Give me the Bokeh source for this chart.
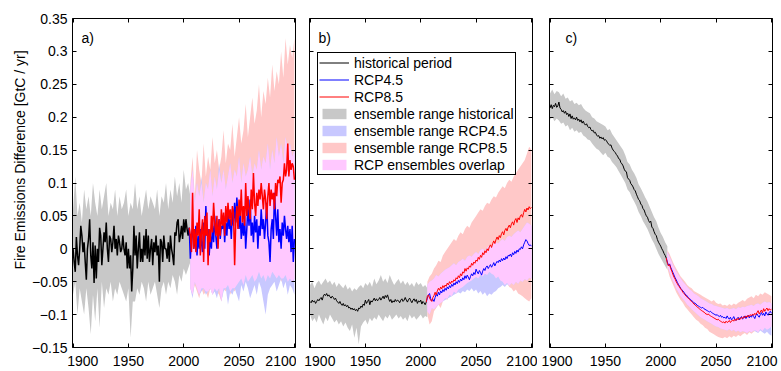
import numpy as np
from bokeh.plotting import figure
from bokeh.models import FixedTicker, LinearAxis, Legend, LegendItem, Range1d, Title, Label
from bokeh.layouts import row
from bokeh.embed import file_html
from bokeh.resources import INLINE

FONT = "Liberation Sans"
XLIM = (1899.5, 2101.0)
YLIM = (-0.15, 0.35)
XTICKS = [1900, 1950, 2000, 2050, 2100]
XTICK_LABELS = ["1900", "1950", "2000", "2050", "2100"]
YTICKS = [-0.15, -0.1, -0.05, 0.0, 0.05, 0.1, 0.15, 0.2, 0.25, 0.3, 0.35]
YTICK_LABELS = ["\u22120.15", "\u22120.1", "\u22120.05", "0", "0.05", "0.1", "0.15", "0.2", "0.25", "0.3", "0.35"]
Y_TITLE = "Fire Emissions Difference [GtC / yr]"
PANEL_NAMES = ["a)", "b)", "c)"]
LEGEND_LABELS = ["historical period", "RCP4.5", "RCP8.5", "ensemble range historical",
                 "ensemble range RCP4.5", "ensemble range RCP8.5", "RCP ensembles overlap"]

HIST_YEARS = list(range(1900, 2006))
RCP_YEARS = list(range(2005, 2101))
HIST_BAND_YEARS = list(range(1900, 2007, 2))
RCP_BAND_YEARS = list(range(2006, 2101, 2))

# ---------------- panel a ----------------
A_HIST = [0.000, -0.020, -0.035, 0.018, -0.010, -0.025, 0.000, 0.035, 0.020, -0.005,
          0.010, -0.020, -0.047, 0.000, 0.015, 0.045, -0.010, -0.030, 0.010, -0.052,
          0.005, -0.045, 0.000, -0.020, 0.032, 0.020, -0.025, 0.000, 0.025, 0.010,
          0.040, 0.000, -0.020, 0.020, 0.015, -0.005, 0.010, 0.035, 0.000, 0.015,
          -0.010, 0.020, 0.010, -0.005, 0.000, 0.020, 0.000, -0.010, 0.010, -0.030,
          0.000, -0.030, -0.010, -0.065, -0.030, 0.035, -0.010, 0.020, -0.030, 0.000,
          0.025, -0.020, 0.000, -0.020, 0.020, -0.010, 0.030, -0.015, 0.020, -0.020,
          0.000, 0.015, -0.025, 0.010, -0.005, 0.020, -0.010, 0.005, -0.050, 0.015,
          0.010, -0.020, 0.020, 0.000, 0.000, -0.015, 0.010, -0.020, 0.020, 0.000,
          -0.010, -0.025, 0.025, 0.020, 0.040, 0.045, 0.010, 0.020, 0.035, 0.015,
          0.045, 0.025, 0.045, 0.030, 0.020, 0.032]
A_RCP45 = [0.032, -0.015, 0.020, 0.030, 0.000, 0.010, 0.035, -0.010, 0.020, 0.000,
           0.030, 0.010, -0.005, 0.040, 0.000, 0.065, 0.020, 0.030, -0.010, 0.020,
           0.000, 0.035, 0.010, 0.050, 0.020, 0.000, 0.030, 0.045, 0.015, 0.035,
           0.030, 0.050, 0.010, 0.040, 0.020, 0.055, 0.030, 0.045, 0.015, 0.060,
           0.035, 0.070, 0.040, 0.078, 0.050, 0.030, 0.055, 0.015, 0.040, 0.020,
           0.050, 0.000, 0.030, 0.065, 0.035, 0.075, 0.020, 0.040, 0.010, 0.050,
           0.025, 0.045, 0.000, 0.035, 0.020, 0.060, 0.030, 0.045, 0.015, 0.040,
           0.070, 0.020, 0.010, -0.020, 0.030, 0.045, 0.015, 0.085, 0.050, 0.020,
           0.060, 0.010, 0.030, 0.000, 0.040, 0.020, 0.050, 0.030, 0.015, 0.035,
           0.010, 0.030, -0.005, 0.035, -0.020, 0.015]
A_RCP85 = [0.032, 0.020, -0.005, 0.085, 0.000, 0.030, -0.005, 0.040, 0.020, 0.060,
           -0.010, 0.025, 0.045, -0.020, 0.050, 0.020, 0.055, -0.025, 0.030, 0.010,
           0.050, 0.025, 0.070, 0.040, 0.020, 0.050, 0.000, 0.045, 0.020, 0.060,
           0.035, 0.055, 0.020, 0.065, 0.040, 0.070, 0.045, 0.060, 0.035, 0.065,
           0.055, -0.025, 0.040, 0.065, 0.030, 0.075, 0.050, 0.090, 0.040, 0.065,
           0.035, 0.100, 0.050, 0.080, 0.060, 0.045, 0.090, 0.060, 0.115, 0.070,
           0.050, 0.085, 0.065, 0.090, 0.075, 0.100, 0.080, 0.060, 0.090, 0.075,
           0.045, 0.080, 0.100, 0.065, 0.090, 0.075, 0.085, 0.060, 0.100, 0.080,
           0.105, 0.100, 0.110, 0.070, 0.100, 0.105, 0.130, 0.110, 0.120, 0.160,
           0.110, 0.135, 0.120, 0.130, 0.125, 0.105]
A_HIST_HI = [0.060, 0.110, 0.050, 0.070, 0.040, 0.090, 0.060, 0.080, 0.050, 0.100,
             0.070, 0.050, 0.090, 0.060, 0.080, 0.100, 0.050, 0.070, 0.060, 0.090,
             0.050, 0.080, 0.060, 0.070, 0.090, 0.050, 0.070, 0.060, 0.100, 0.060,
             0.080, 0.050, 0.070, 0.090, 0.060, 0.080, 0.070, 0.060, 0.090, 0.050,
             0.080, 0.070, 0.100, 0.060, 0.090, 0.070, 0.110, 0.080, 0.100, 0.070,
             0.120, 0.090, 0.100, 0.080]
A_HIST_LO = [-0.070, -0.050, -0.100, -0.060, -0.080, -0.100, -0.060, -0.090, -0.130, -0.070,
             -0.110, -0.060, -0.120, -0.050, -0.090, -0.060, -0.070, -0.050, -0.080, -0.060,
             -0.070, -0.050, -0.060, -0.070, -0.080, -0.060, -0.135, -0.080, -0.080, -0.060,
             -0.070, -0.050, -0.060, -0.080, -0.050, -0.070, -0.060, -0.050, -0.070, -0.090,
             -0.060, -0.050, -0.070, -0.050, -0.060, -0.040, -0.050, -0.070, -0.040, -0.050,
             -0.030, -0.040, -0.030, -0.020]
A_RCP85_HI = [0.100, 0.140, 0.080, 0.150, 0.120, 0.100, 0.160, 0.110, 0.140, 0.120,
              0.170, 0.130, 0.150, 0.120, 0.140, 0.180, 0.130, 0.160, 0.150, 0.190,
              0.140, 0.170, 0.200, 0.160, 0.180, 0.220, 0.170, 0.200, 0.230, 0.190,
              0.210, 0.250, 0.200, 0.240, 0.220, 0.260, 0.230, 0.280, 0.240, 0.270,
              0.250, 0.300, 0.260, 0.320, 0.280, 0.310, 0.290, 0.320]
A_RCP85_LO = [-0.060, -0.070, -0.055, -0.065, -0.075, -0.060, -0.070, -0.065, -0.075, -0.060,
              -0.070, -0.060, -0.065, -0.070, -0.080, -0.060, -0.065, -0.055, -0.070, -0.060,
              -0.065, -0.055, -0.050, -0.045, -0.055, -0.040, -0.050, -0.045, -0.040, -0.050,
              -0.045, -0.035, -0.045, -0.040, -0.050, -0.040, -0.045, -0.035, -0.040, -0.045,
              -0.040, -0.050, -0.045, -0.040, -0.050, -0.045, -0.050, -0.045]
A_RCP45_HI = [0.090, 0.120, 0.070, 0.100, 0.080, 0.110, 0.070, 0.100, 0.090, 0.120,
              0.080, 0.110, 0.090, 0.130, 0.100, 0.120, 0.090, 0.110, 0.130, 0.100,
              0.120, 0.110, 0.140, 0.100, 0.130, 0.110, 0.120, 0.140, 0.110, 0.130,
              0.120, 0.150, 0.120, 0.140, 0.130, 0.160, 0.120, 0.150, 0.130, 0.170,
              0.140, 0.160, 0.130, 0.170, 0.150, 0.160, 0.140, 0.150]
A_RCP45_LO = [-0.060, -0.075, -0.050, -0.060, -0.070, -0.065, -0.060, -0.070, -0.065, -0.060,
              -0.070, -0.065, -0.075, -0.060, -0.080, -0.065, -0.060, -0.085, -0.065, -0.070,
              -0.060, -0.070, -0.080, -0.055, -0.065, -0.050, -0.060, -0.075, -0.065, -0.055,
              -0.070, -0.050, -0.060, -0.080, -0.100, -0.070, -0.060, -0.055, -0.050, -0.065,
              -0.055, -0.045, -0.060, -0.050, -0.070, -0.055, -0.060, -0.070]

# ---------------- panel b ----------------
B_HIST = [-0.080, -0.082, -0.078, -0.081, -0.079, -0.083, -0.080, -0.077, -0.079, -0.076,
          -0.074, -0.078, -0.072, -0.069, -0.071, -0.068, -0.072, -0.070, -0.073, -0.075,
          -0.072, -0.074, -0.077, -0.075, -0.079, -0.081, -0.083, -0.080, -0.084, -0.086,
          -0.083, -0.087, -0.085, -0.088, -0.086, -0.090, -0.089, -0.092, -0.090, -0.093,
          -0.091, -0.094, -0.092, -0.095, -0.090, -0.091, -0.087, -0.089, -0.084, -0.086,
          -0.078, -0.083, -0.080, -0.077, -0.085, -0.079, -0.081, -0.078, -0.075, -0.079,
          -0.076, -0.079, -0.077, -0.074, -0.078, -0.075, -0.072, -0.076, -0.071, -0.074,
          -0.070, -0.076, -0.080, -0.077, -0.082, -0.079, -0.081, -0.077, -0.080, -0.078,
          -0.079, -0.082, -0.078, -0.076, -0.080, -0.078, -0.074, -0.078, -0.081, -0.077,
          -0.075, -0.079, -0.082, -0.078, -0.076, -0.080, -0.077, -0.083, -0.079, -0.081,
          -0.078, -0.084, -0.080, -0.082, -0.085, -0.081]
B_RCP45 = [-0.081, -0.075, -0.070, -0.068, -0.076, -0.079, -0.077, -0.080, -0.074, -0.069,
           -0.072, -0.066, -0.070, -0.064, -0.067, -0.062, -0.065, -0.060, -0.063, -0.058,
           -0.061, -0.056, -0.059, -0.054, -0.057, -0.052, -0.055, -0.050, -0.053, -0.048,
           -0.051, -0.046, -0.049, -0.044, -0.047, -0.041, -0.045, -0.040, -0.043, -0.047,
           -0.042, -0.038, -0.041, -0.036, -0.039, -0.031, -0.035, -0.038, -0.033, -0.036,
           -0.040, -0.034, -0.030, -0.033, -0.028, -0.026, -0.030, -0.027, -0.024, -0.028,
           -0.025, -0.021, -0.026, -0.022, -0.019, -0.021, -0.017, -0.020, -0.015, -0.018,
           -0.014, -0.017, -0.012, -0.015, -0.010, -0.011, -0.008, -0.012, -0.006, -0.009,
           -0.004, -0.007, -0.002, -0.005, 0.000, -0.001, 0.003, 0.000, 0.006, 0.010,
           0.014, 0.012, 0.008, 0.005, 0.006, 0.004]
B_RCP85 = [-0.081, -0.072, -0.070, -0.075, -0.078, -0.080, -0.074, -0.071, -0.066, -0.070,
           -0.064, -0.060, -0.063, -0.058, -0.061, -0.056, -0.059, -0.055, -0.057, -0.052,
           -0.055, -0.050, -0.053, -0.049, -0.051, -0.047, -0.049, -0.044, -0.046, -0.041,
           -0.044, -0.038, -0.041, -0.035, -0.037, -0.030, -0.034, -0.029, -0.031, -0.026,
           -0.028, -0.022, -0.025, -0.020, -0.022, -0.017, -0.019, -0.013, -0.016, -0.010,
           -0.013, -0.006, -0.009, -0.003, -0.006, 0.000, -0.003, 0.003, 0.006, 0.002,
           0.008, 0.012, 0.008, 0.014, 0.018, 0.014, 0.020, 0.017, 0.023, 0.026,
           0.021, 0.028, 0.031, 0.027, 0.033, 0.036, 0.032, 0.038, 0.041, 0.036,
           0.043, 0.046, 0.040, 0.047, 0.044, 0.050, 0.052, 0.048, 0.055, 0.060,
           0.056, 0.062, 0.059, 0.064, 0.061, 0.063]
B_HIST_HI = [-0.055, -0.050, -0.060, -0.052, -0.048, -0.055, -0.050, -0.045, -0.052, -0.048,
             -0.055, -0.050, -0.058, -0.052, -0.056, -0.060, -0.054, -0.062, -0.058, -0.065,
             -0.060, -0.063, -0.058, -0.055, -0.060, -0.052, -0.056, -0.050, -0.058, -0.045,
             -0.054, -0.048, -0.040, -0.050, -0.045, -0.052, -0.040, -0.048, -0.055, -0.050,
             -0.046, -0.053, -0.048, -0.055, -0.050, -0.056, -0.052, -0.058, -0.050, -0.055,
             -0.052, -0.058, -0.055, -0.060]
B_HIST_LO = [-0.100, -0.110, -0.105, -0.112, -0.100, -0.108, -0.115, -0.104, -0.110, -0.100,
             -0.106, -0.112, -0.108, -0.115, -0.110, -0.118, -0.112, -0.120, -0.125, -0.115,
             -0.135, -0.120, -0.145, -0.118, -0.112, -0.108, -0.115, -0.105, -0.110, -0.104,
             -0.108, -0.100, -0.105, -0.110, -0.102, -0.106, -0.100, -0.108, -0.104, -0.100,
             -0.106, -0.102, -0.108, -0.104, -0.110, -0.100, -0.106, -0.102, -0.108, -0.104,
             -0.100, -0.106, -0.102, -0.104]
B_RCP85_HI = [-0.050, -0.042, -0.038, -0.030, -0.025, -0.018, -0.020, -0.010, -0.005, 0.000,
              0.005, 0.010, 0.015, 0.012, 0.020, 0.025, 0.022, 0.030, 0.035, 0.032,
              0.040, 0.045, 0.050, 0.055, 0.060, 0.058, 0.065, 0.070, 0.068, 0.075,
              0.080, 0.078, 0.085, 0.090, 0.095, 0.092, 0.100, 0.105, 0.102, 0.110,
              0.115, 0.120, 0.125, 0.130, 0.135, 0.145, 0.155, 0.150]
B_RCP85_LO = [-0.100, -0.115, -0.110, -0.095, -0.090, -0.085, -0.090, -0.080, -0.075, -0.078,
              -0.070, -0.072, -0.065, -0.068, -0.062, -0.060, -0.058, -0.055, -0.052, -0.050,
              -0.048, -0.045, -0.043, -0.045, -0.040, -0.042, -0.038, -0.040, -0.035, -0.038,
              -0.040, -0.045, -0.042, -0.048, -0.050, -0.055, -0.052, -0.058, -0.060, -0.065,
              -0.062, -0.068, -0.070, -0.072, -0.075, -0.078, -0.080, -0.075]
B_RCP45_HI = [-0.055, -0.050, -0.048, -0.045, -0.040, -0.042, -0.038, -0.035, -0.032, -0.030,
              -0.028, -0.025, -0.022, -0.025, -0.020, -0.018, -0.015, -0.018, -0.012, -0.010,
              -0.012, -0.008, -0.005, -0.008, -0.002, 0.000, -0.003, 0.002, 0.005, 0.002,
              0.008, 0.010, 0.008, 0.012, 0.015, 0.012, 0.018, 0.020, 0.018, 0.022,
              0.025, 0.028, 0.025, 0.030, 0.035, 0.040, 0.038, 0.035]
B_RCP45_LO = [-0.095, -0.100, -0.090, -0.092, -0.088, -0.085, -0.082, -0.080, -0.078, -0.076,
              -0.074, -0.072, -0.070, -0.068, -0.066, -0.068, -0.064, -0.066, -0.062, -0.064,
              -0.060, -0.065, -0.062, -0.068, -0.064, -0.070, -0.066, -0.072, -0.068, -0.070,
              -0.066, -0.064, -0.060, -0.058, -0.055, -0.058, -0.054, -0.056, -0.052, -0.055,
              -0.050, -0.053, -0.048, -0.050, -0.046, -0.048, -0.044, -0.045]

# ---------------- panel c ----------------
C_HIST = [0.214, 0.219, 0.213, 0.218, 0.216, 0.221, 0.215, 0.217, 0.223, 0.214,
          0.212, 0.208, 0.210, 0.206, 0.209, 0.204, 0.206, 0.201, 0.205, 0.198,
          0.202, 0.197, 0.199, 0.196, 0.200, 0.195, 0.197, 0.193, 0.196, 0.191,
          0.194, 0.190, 0.188, 0.190, 0.186, 0.184, 0.185, 0.181, 0.179, 0.180,
          0.176, 0.177, 0.173, 0.171, 0.172, 0.168, 0.170, 0.167, 0.169, 0.165,
          0.166, 0.164, 0.161, 0.159, 0.157, 0.158, 0.153, 0.150, 0.148, 0.146,
          0.143, 0.141, 0.137, 0.136, 0.131, 0.129, 0.126, 0.121, 0.118, 0.117,
          0.108, 0.106, 0.104, 0.099, 0.097, 0.094, 0.090, 0.088, 0.083, 0.079,
          0.075, 0.073, 0.068, 0.066, 0.061, 0.059, 0.054, 0.050, 0.048, 0.043,
          0.040, 0.042, 0.033, 0.031, 0.026, 0.022, 0.020, 0.014, 0.010, 0.007,
          0.004, 0.000, -0.003, -0.007, -0.010, -0.014]
C_RCP45 = [-0.014, -0.020, -0.025, -0.023, -0.028, -0.032, -0.036, -0.040, -0.044, -0.047,
           -0.051, -0.054, -0.057, -0.060, -0.062, -0.064, -0.066, -0.069, -0.070, -0.072,
           -0.074, -0.076, -0.077, -0.079, -0.080, -0.082, -0.083, -0.084, -0.086, -0.087,
           -0.088, -0.089, -0.090, -0.089, -0.091, -0.092, -0.093, -0.094, -0.095, -0.096,
           -0.095, -0.097, -0.098, -0.099, -0.100, -0.101, -0.100, -0.102, -0.103, -0.101,
           -0.104, -0.103, -0.105, -0.104, -0.106, -0.102, -0.105, -0.107, -0.104, -0.108,
           -0.106, -0.103, -0.107, -0.109, -0.106, -0.104, -0.108, -0.105, -0.103, -0.107,
           -0.104, -0.102, -0.106, -0.103, -0.101, -0.105, -0.102, -0.104, -0.100, -0.103,
           -0.106, -0.101, -0.099, -0.102, -0.104, -0.100, -0.097, -0.101, -0.098, -0.102,
           -0.096, -0.099, -0.101, -0.097, -0.095, -0.098]
C_RCP85 = [-0.014, -0.022, -0.026, -0.024, -0.030, -0.034, -0.039, -0.043, -0.046, -0.050,
           -0.053, -0.056, -0.058, -0.061, -0.063, -0.066, -0.068, -0.070, -0.072, -0.074,
           -0.075, -0.077, -0.079, -0.080, -0.082, -0.084, -0.085, -0.087, -0.088, -0.090,
           -0.091, -0.093, -0.094, -0.095, -0.096, -0.098, -0.099, -0.100, -0.099, -0.101,
           -0.102, -0.103, -0.104, -0.105, -0.106, -0.107, -0.108, -0.107, -0.109, -0.110,
           -0.111, -0.112, -0.111, -0.113, -0.110, -0.112, -0.111, -0.109, -0.112, -0.110,
           -0.108, -0.110, -0.107, -0.109, -0.106, -0.108, -0.105, -0.107, -0.104, -0.106,
           -0.103, -0.105, -0.102, -0.104, -0.101, -0.103, -0.100, -0.102, -0.099, -0.101,
           -0.098, -0.100, -0.097, -0.094, -0.099, -0.096, -0.093, -0.097, -0.091, -0.095,
           -0.092, -0.090, -0.094, -0.091, -0.093, -0.092]
C_HIST_HI = [0.236, 0.242, 0.235, 0.240, 0.238, 0.232, 0.236, 0.228, 0.230, 0.224,
             0.226, 0.220, 0.222, 0.218, 0.220, 0.214, 0.210, 0.208, 0.206, 0.200,
             0.198, 0.194, 0.192, 0.190, 0.188, 0.186, 0.180, 0.182, 0.175, 0.170,
             0.165, 0.160, 0.155, 0.150, 0.142, 0.132, 0.128, 0.120, 0.115, 0.108,
             0.098, 0.092, 0.085, 0.078, 0.072, 0.064, 0.056, 0.048, 0.042, 0.032,
             0.024, 0.018, 0.010, 0.004]
C_HIST_LO = [0.196, 0.200, 0.194, 0.198, 0.195, 0.190, 0.192, 0.186, 0.188, 0.180,
             0.184, 0.178, 0.180, 0.176, 0.178, 0.172, 0.170, 0.166, 0.165, 0.160,
             0.156, 0.152, 0.150, 0.146, 0.142, 0.146, 0.140, 0.138, 0.132, 0.128,
             0.124, 0.118, 0.112, 0.106, 0.100, 0.090, 0.086, 0.078, 0.072, 0.065,
             0.056, 0.050, 0.042, 0.036, 0.030, 0.022, 0.014, 0.008, 0.000, -0.008,
             -0.014, -0.020, -0.026, -0.032]
C_RCP85_HI = [-0.002, -0.008, -0.016, -0.024, -0.030, -0.036, -0.042, -0.046, -0.050, -0.055,
              -0.058, -0.060, -0.064, -0.066, -0.068, -0.070, -0.072, -0.074, -0.076, -0.078,
              -0.080, -0.078, -0.082, -0.084, -0.083, -0.086, -0.085, -0.087, -0.084, -0.086,
              -0.083, -0.085, -0.082, -0.080, -0.078, -0.080, -0.076, -0.074, -0.072, -0.075,
              -0.070, -0.072, -0.068, -0.070, -0.066, -0.068, -0.070, -0.072]
C_RCP85_LO = [-0.030, -0.042, -0.050, -0.058, -0.066, -0.072, -0.078, -0.082, -0.088, -0.092,
              -0.096, -0.100, -0.104, -0.108, -0.110, -0.114, -0.116, -0.120, -0.122, -0.126,
              -0.128, -0.130, -0.132, -0.134, -0.135, -0.136, -0.134, -0.136, -0.133, -0.135,
              -0.132, -0.134, -0.131, -0.133, -0.130, -0.128, -0.131, -0.127, -0.129, -0.126,
              -0.124, -0.127, -0.122, -0.125, -0.120, -0.123, -0.121, -0.118]
C_RCP45_HI = [-0.005, -0.012, -0.020, -0.028, -0.034, -0.040, -0.045, -0.050, -0.054, -0.058,
              -0.062, -0.064, -0.068, -0.070, -0.072, -0.075, -0.077, -0.079, -0.081, -0.083,
              -0.084, -0.086, -0.087, -0.088, -0.089, -0.090, -0.091, -0.090, -0.092, -0.091,
              -0.090, -0.092, -0.089, -0.090, -0.088, -0.089, -0.087, -0.086, -0.085, -0.087,
              -0.084, -0.083, -0.085, -0.082, -0.080, -0.082, -0.081, -0.083]
C_RCP45_LO = [-0.025, -0.035, -0.045, -0.052, -0.060, -0.066, -0.072, -0.076, -0.080, -0.085,
              -0.088, -0.092, -0.095, -0.098, -0.101, -0.104, -0.106, -0.108, -0.110, -0.112,
              -0.114, -0.116, -0.118, -0.119, -0.121, -0.122, -0.123, -0.124, -0.122, -0.125,
              -0.123, -0.126, -0.124, -0.127, -0.125, -0.126, -0.128, -0.125, -0.127, -0.124,
              -0.126, -0.128, -0.124, -0.127, -0.129, -0.126, -0.130, -0.132]

GRAY = "#c8c8c8"
BLUE_BAND = "#c8c8ff"
RED_BAND = "#ffc8c8"
PINK = "#ffc8ff"
NBSP = "\u00a0"


def tick_axis(ax, show_labels, overrides=None):
    ax.axis_line_color = None
    ax.major_tick_in = 4
    ax.major_tick_out = 0
    ax.major_tick_line_color = "black"
    ax.minor_tick_line_color = None
    if show_labels:
        ax.major_label_text_font = FONT
        ax.major_label_text_font_size = "14px"
        ax.major_label_text_color = "black"
        ax.major_label_standoff = 5
        if overrides:
            ax.major_label_overrides = overrides
    else:
        ax.major_label_text_font_size = "0px"
        ax.major_label_text_color = None
        ax.major_label_standoff = 0


def make_panel(idx, d, width, bl, br, lw, pad_first, pad_last):
    p = figure(width=width, height=371, x_range=Range1d(*XLIM), y_range=Range1d(*YLIM),
               output_backend="svg", toolbar_location=None,
               min_border_left=bl, min_border_right=br, min_border_top=18, min_border_bottom=23)
    p.xgrid.visible = False
    p.ygrid.visible = False
    p.outline_line_color = "black"
    p.outline_line_width = 1
    p.outline_line_alpha = 1
    p.background_fill_color = "white"
    p.border_fill_color = "white"

    p.xaxis.ticker = FixedTicker(ticks=XTICKS)
    p.yaxis.ticker = FixedTicker(ticks=YTICKS)
    # end labels sit inward as in the original (padding with no-break spaces)
    xover = {t: lab for t, lab in zip(XTICKS, XTICK_LABELS)}
    xover[XTICKS[0]] = NBSP * pad_first + XTICK_LABELS[0]
    xover[XTICKS[-1]] = XTICK_LABELS[-1] + NBSP * pad_last
    tick_axis(p.xaxis[0], True, xover)
    tick_axis(p.yaxis[0], idx == 0, {t: lab for t, lab in zip(YTICKS, YTICK_LABELS)})
    ra = LinearAxis(ticker=FixedTicker(ticks=YTICKS))
    tick_axis(ra, False)
    p.add_layout(ra, "right")
    ta = LinearAxis(ticker=FixedTicker(ticks=XTICKS))
    tick_axis(ta, False)
    p.add_layout(ta, "above")

    hist, r45, r85, hhi, hlo, h85, l85, h45, l45 = d
    rh_band = p.varea(x=HIST_BAND_YEARS, y1=hlo, y2=hhi, fill_color=GRAY)
    r85_band = p.varea(x=RCP_BAND_YEARS, y1=l85, y2=h85, fill_color=RED_BAND)
    r45_band = p.varea(x=RCP_BAND_YEARS, y1=l45, y2=h45, fill_color=BLUE_BAND)
    olo = np.maximum(np.array(l45), np.array(l85))
    ohi = np.maximum(np.minimum(np.array(h45), np.array(h85)), olo)
    ov_band = p.varea(x=RCP_BAND_YEARS, y1=olo, y2=ohi, fill_color=PINK)

    rl_h = p.line(HIST_YEARS, hist, line_color="black", line_width=lw)
    rl_45 = p.line(RCP_YEARS, r45, line_color="#0000ff", line_width=lw)
    rl_85 = p.line(RCP_YEARS, r85, line_color="#ff0000", line_width=lw)

    p.add_layout(Label(x=XLIM[0], y=YLIM[1], x_offset=(16 if idx == 2 else 9), y_offset=-11,
                       text=PANEL_NAMES[idx], text_align="left", text_baseline="top",
                       text_font=FONT, text_font_size="14px", text_color="black"))
    if idx == 0:
        p.add_layout(Title(text=Y_TITLE, align="left", offset=78, standoff=4,
                           text_font=FONT, text_font_size="14px", text_font_style="normal",
                           text_color="black"), "left")
    if idx == 1:
        rends = [rl_h, rl_45, rl_85, rh_band, r45_band, r85_band, ov_band]
        items = [LegendItem(label=lab, renderers=[r]) for lab, r in zip(LEGEND_LABELS, rends)]
        leg = Legend(items=items, location=(8, 172), margin=0, padding=1, spacing=0,
                     label_height=17, glyph_height=13, glyph_width=30, label_standoff=5,
                     label_text_font=FONT, label_text_font_size="14px",
                     label_text_color="black", border_line_color="black",
                     border_line_width=1, border_line_alpha=1,
                     background_fill_color="white", background_fill_alpha=1)
        p.add_layout(leg)
    return p


pa = make_panel(0, (A_HIST, A_RCP45, A_RCP85, A_HIST_HI, A_HIST_LO,
                    A_RCP85_HI, A_RCP85_LO, A_RCP45_HI, A_RCP45_LO), 296, 72, 1, 1.5, 5, 0)
pb = make_panel(1, (B_HIST, B_RCP45, B_RCP85, B_HIST_HI, B_HIST_LO,
                    B_RCP85_HI, B_RCP85_LO, B_RCP45_HI, B_RCP45_LO), 241, 13, 5, 1.0, 2, 0)
pc = make_panel(2, (C_HIST, C_RCP45, C_RCP85, C_HIST_HI, C_HIST_LO,
                    C_RCP85_HI, C_RCP85_LO, C_RCP45_HI, C_RCP45_LO), 244, 12, 9, 1.0, 1, 1)

layout = row(pa, pb, pc)
open("out.html", "w").write(file_html(layout, INLINE))
